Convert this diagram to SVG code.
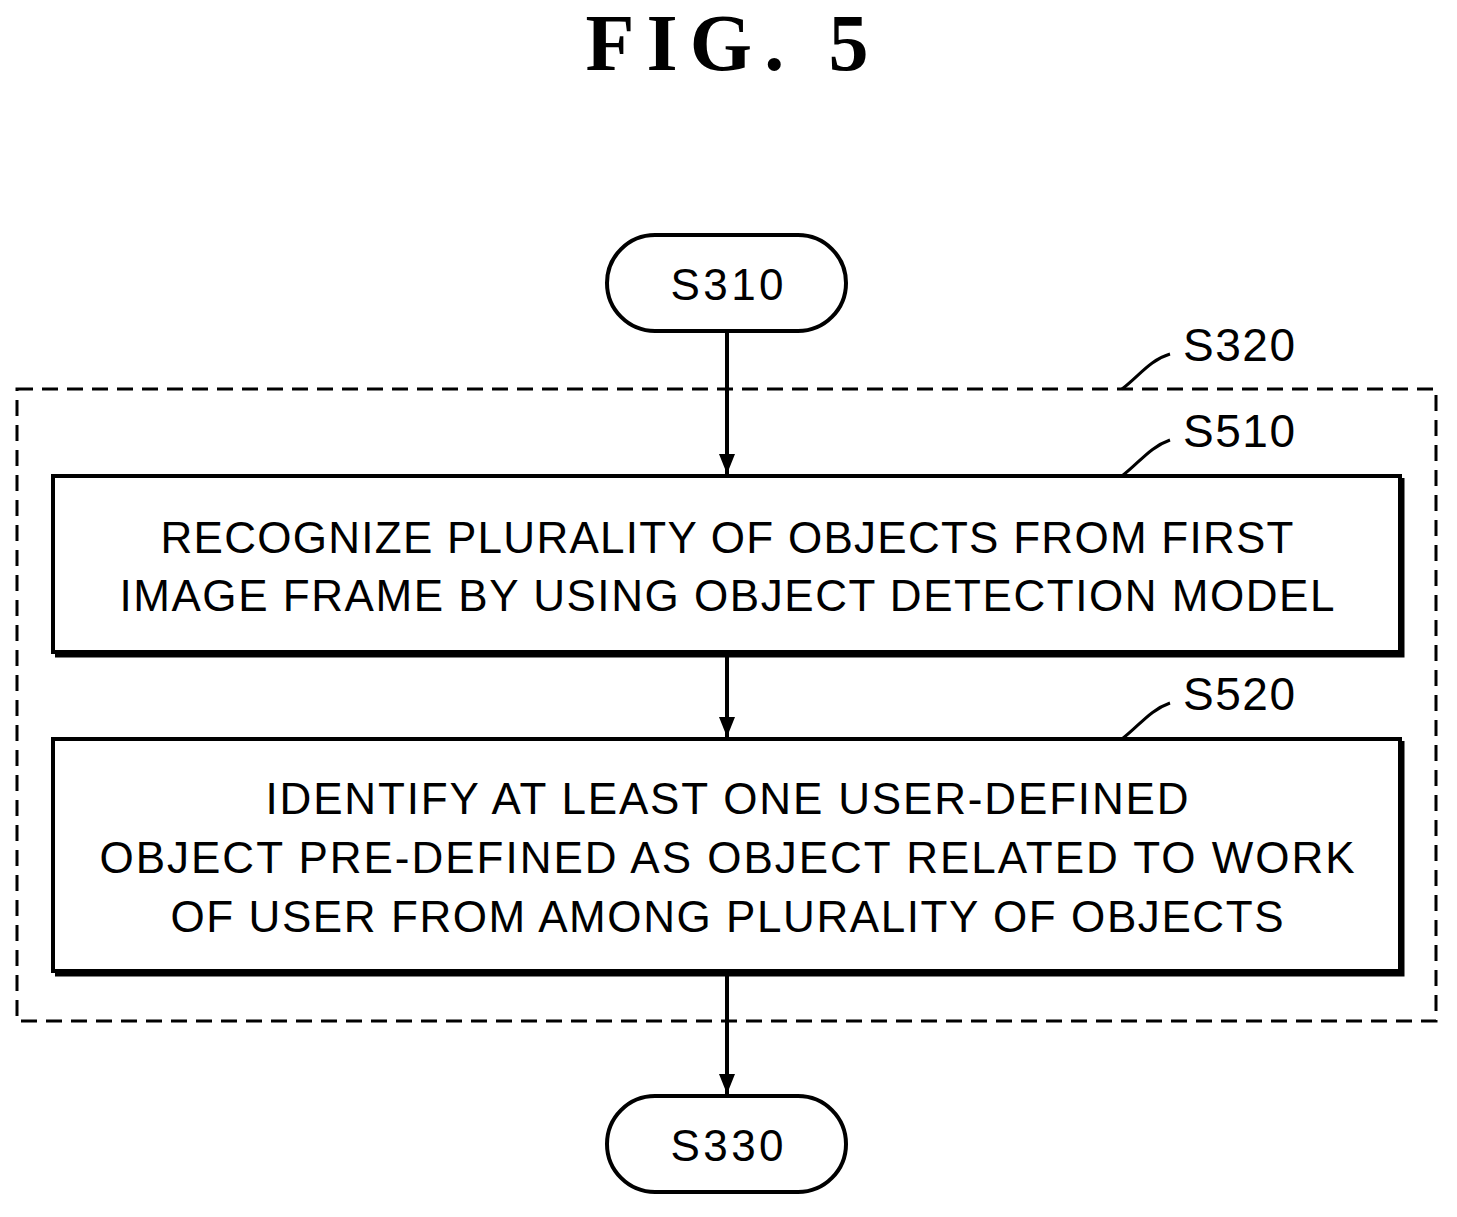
<svg xmlns="http://www.w3.org/2000/svg" width="1457" height="1217" viewBox="0 0 1457 1217">
<style>
.t{font-family:"Liberation Sans",Arial,sans-serif;font-size:44px;fill:#000;text-anchor:middle}
.l{font-family:"Liberation Sans",Arial,sans-serif;font-size:46px;fill:#000}
.b{fill:#fff;stroke:#000;stroke-width:4}
.s{fill:none;stroke:#000;stroke-width:7}
.c{fill:none;stroke:#000;stroke-width:3}
</style>
<defs>
<marker id="ar" viewBox="0 0 20 16" markerWidth="20" markerHeight="16" refX="20" refY="8" orient="auto" markerUnits="userSpaceOnUse"><path d="M0,0 L20,8 L0,16 Z" fill="#000"/></marker></defs>
<rect width="1457" height="1217" fill="#fff"/>
<text x="727" y="70" text-anchor="middle" font-family="Liberation Serif,serif" font-weight="bold" font-size="80" textLength="283" lengthAdjust="spacing">FIG. 5</text>
<g id="S320">
<rect x="17" y="389" width="1419" height="632" fill="none" stroke="#000" stroke-width="3" stroke-dasharray="16,9"/>
<path class="c" d="M1122,389 C1140,375 1150,360 1170,354"/>
<text class="l" x="1183" y="361" textLength="112">S320</text>
</g>
<g id="S310"><rect class="b" x="607" y="235" width="239" height="96" rx="48"/><text class="t" x="727" y="300" font-size="46" textLength="113">S310</text></g>
<g id="S330"><rect class="b" x="607" y="1096" width="239" height="96" rx="48"/><text class="t" x="727" y="1161" font-size="46" textLength="113">S330</text></g>
<g id="S510">
<path class="s" d="M1401,478 V654 H55"/>
<rect class="b" x="53" y="476" width="1347" height="176"/>
<text class="t" x="727" y="553" textLength="1133">RECOGNIZE PLURALITY OF OBJECTS FROM FIRST</text>
<text class="t" x="727" y="611" textLength="1215">IMAGE FRAME BY USING OBJECT DETECTION MODEL</text>
<path class="c" d="M1122,476 C1140,462 1150,447 1170,440"/>
<text class="l" x="1183" y="447" textLength="112">S510</text>
</g>
<g id="S520">
<path class="s" d="M1401,741 V973 H55"/>
<rect class="b" x="53" y="739" width="1347" height="232"/>
<text class="t" x="727" y="814" textLength="923">IDENTIFY AT LEAST ONE USER-DEFINED</text>
<text class="t" x="727" y="873" textLength="1255">OBJECT PRE-DEFINED AS OBJECT RELATED TO WORK</text>
<text class="t" x="727" y="932" textLength="1113">OF USER FROM AMONG PLURALITY OF OBJECTS</text>
<path class="c" d="M1122,739 C1140,725 1150,710 1170,703"/>
<text class="l" x="1183" y="710" textLength="112">S520</text>
</g>
<g id="connectors" stroke="#000" stroke-width="4">
<line x1="727" y1="333" x2="727" y2="474" marker-end="url(#ar)"/>
<line x1="727" y1="656" x2="727" y2="737" marker-end="url(#ar)"/>
<line x1="727" y1="976" x2="727" y2="1094" marker-end="url(#ar)"/>
</g>
</svg>
